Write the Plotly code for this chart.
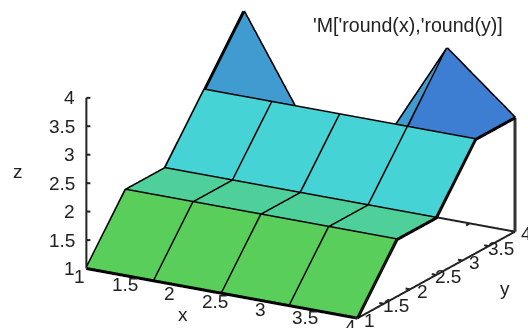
import math

import plotly.graph_objects as go

# grid of the surface
x_vals = [1, 1.75, 2.5, 3.25, 4]
y_vals = [1, 1.75, 2.5, 3.25, 4]
z_rows = [
    [1, 1, 1, 1, 1],
    [2, 2, 2, 2, 2],
    [2, 2, 2, 2, 2],
    [3, 3, 3, 3, 3],
    [4, 2, 2, 4, 3],
]

# facet colour by mean z of its four corners
palette = {
    1.5: "#5ACE5A",
    2.0: "#4FCF9A",
    2.5: "#45D3D6",
    3.0: "#3F9BD0",
    3.25: "#3D7DD2",
}

x_ticks = [1, 1.5, 2, 2.5, 3, 3.5, 4]
y_ticks = [1, 1.5, 2, 2.5, 3, 3.5, 4]
z_ticks = [1, 1.5, 2, 2.5, 3, 3.5, 4]
tick_labels = ["1", "1.5", "2", "2.5", "3", "3.5", "4"]

FONT = dict(family="Liberation Sans", size=19, color="#222222")

n = len(x_vals)
vx, vy, vz = [], [], []
for r in range(n):
    for c in range(n):
        vx.append(x_vals[c])
        vy.append(y_vals[r])
        vz.append(z_rows[r][c])

ii, jj, kk, colors = [], [], [], []
for r in range(n - 1):
    for c in range(n - 1):
        a = r * n + c
        b = a + 1
        d = a + n
        e = d + 1
        mean = (vz[a] + vz[b] + vz[d] + vz[e]) / 4
        # split each quad along its lower diagonal
        if vz[a] + vz[e] <= vz[b] + vz[d]:
            ii += [a, e]
            jj += [b, d]
            kk += [e, a]
        else:
            ii += [a, b]
            jj += [b, e]
            kk += [d, d]
        colors += [palette[mean], palette[mean]]

fig = go.Figure()

fig.add_trace(
    go.Mesh3d(
        x=vx,
        y=vy,
        z=vz,
        i=ii,
        j=jj,
        k=kk,
        facecolor=colors,
        flatshading=True,
        lighting=dict(ambient=1, diffuse=0, specular=0, fresnel=0, roughness=1),
        hoverinfo="skip",
    )
)


def add_line(xs, ys, zs, width=6, color="black"):
    fig.add_trace(
        go.Scatter3d(
            x=xs,
            y=ys,
            z=zs,
            mode="lines",
            line=dict(color=color, width=width),
            hoverinfo="skip",
        )
    )


# wireframe
for r in range(n):
    add_line(x_vals, [y_vals[r]] * n, z_rows[r])
for c in range(n):
    add_line([x_vals[c]] * n, y_vals, [z_rows[r][c] for r in range(n)])

# border
add_line([1, 1], [1, 1], [1, 4], width=4, color="#222222")
add_line([4, 4], [1, 4], [1, 1], width=4, color="#222222")
add_line([1, 4], [4, 4], [1, 1], width=4, color="#222222")
add_line([4, 4], [4, 4], [1, z_rows[-1][-1]], width=6, color="#333333")

# ticks
for z in z_ticks:
    add_line([1, 1.033], [1, 1.019], [z, z], width=4, color="#222222")
for y in y_ticks:
    add_line([4, 3.95], [y, y], [1, 1], width=4, color="#222222")
for x in x_ticks:
    add_line([x, x], [4, 3.93], [1, 1], width=4, color="#222222")

annotations = []
for z, label in zip(z_ticks, tick_labels):
    annotations.append(
        dict(x=1, y=1, z=z, text=label, showarrow=False, xanchor="right", xshift=-9, font=FONT)
    )
for x, label in zip(x_ticks, tick_labels):
    annotations.append(dict(x=x, y=1, z=1, text=label, showarrow=False, xshift=-7, yshift=-8, font=FONT))
for y, label in zip(y_ticks, tick_labels):
    annotations.append(dict(x=4, y=y, z=1, text=label, showarrow=False, xshift=12, yshift=-2, font=FONT))

az = math.radians(-60)
el = math.radians(18.5)
dist = 2.0

# screen right and up vectors, used to slide the camera without turning it
right = (-math.sin(az), math.cos(az), 0)
up = (-math.cos(az) * math.sin(el), -math.sin(az) * math.sin(el), math.cos(el))
shift_r = -38 / 170
shift_u = 0.8 / 170
center = [right[i] * shift_r + up[i] * shift_u for i in range(3)]
look = (math.cos(az) * math.cos(el), math.sin(az) * math.cos(el), math.sin(el))

axis = dict(visible=False, showspikes=False)


def paper(text, px, py, size=19):
    return dict(
        text=text,
        x=px / 528,
        y=1 - py / 328,
        xref="paper",
        yref="paper",
        xanchor="center",
        yanchor="middle",
        showarrow=False,
        font=dict(FONT, size=size),
    )


fig.update_layout(
    width=528,
    height=328,
    margin=dict(l=0, r=0, t=0, b=0),
    paper_bgcolor="white",
    showlegend=False,
    scene=dict(
        domain=dict(x=[0, 1], y=[0, 1]),
        xaxis=dict(range=[0.98, 4.02], **axis),
        yaxis=dict(range=[0.98, 4.02], **axis),
        zaxis=dict(range=[0.98, 4.02], **axis),
        aspectmode="manual",
        aspectratio=dict(x=1.935, y=1.945, z=1.112),
        camera=dict(
            projection=dict(type="orthographic"),
            up=dict(x=0, y=0, z=1),
            center=dict(x=center[0], y=center[1], z=center[2]),
            eye=dict(
                x=center[0] + dist * look[0],
                y=center[1] + dist * look[1],
                z=center[2] + dist * look[2],
            ),
        ),
        annotations=annotations,
    ),
    annotations=[
        paper("'M['round(x),'round(y)]", 408, 25, size=19.6),
        paper("z", 18, 171),
        paper("x", 183, 314),
        paper("y", 505, 288),
    ],
)

# the page's default body margin would push the plot 8px off
fig.write_html(
    "out.html",
    config={"displayModeBar": False},
    post_script="document.body.style.margin = '0';",
)
